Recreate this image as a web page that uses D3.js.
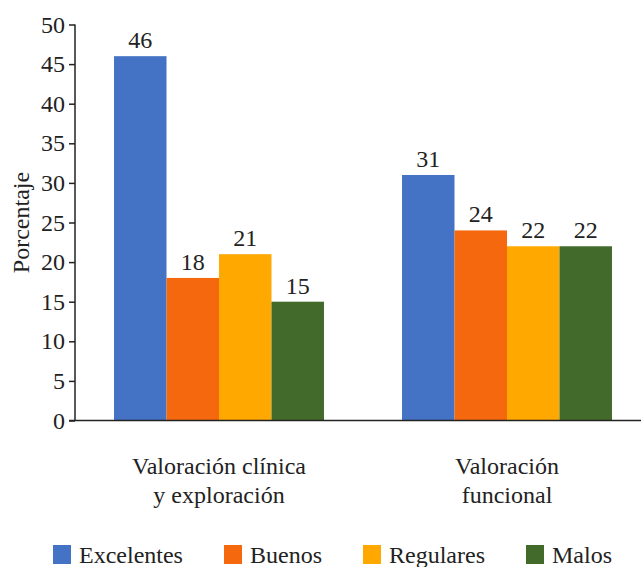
<!DOCTYPE html>
<html>
<head>
<meta charset="utf-8">
<script src="https://cdn.jsdelivr.net/npm/d3@7"></script>
<style>
  body { margin: 0; background: #fff; }
  svg text { font-family: "Liberation Serif", "Times New Roman", Tinos, Times, "DejaVu Serif", serif; fill: #222; }
</style>
</head>
<body>
<div id="chart"></div>
<script>
// chart data
var groups = ["Valoración clínica|y exploración", "Valoración|funcional"];
var series = ["Excelentes", "Buenos", "Regulares", "Malos"];
var excelentes = [46, 31];
var buenos = [18, 24];
var regulares = [21, 22];
var malos = [15, 22];
var colors = ["#4472C4", "#F5680E", "#FFA900", "#426A2B"];
var yTicks = [0, 5, 10, 15, 20, 25, 30, 35, 40, 45, 50];

var values = [excelentes, buenos, regulares, malos];

var width = 641, height = 567;
var margin = {top: 24.5, left: 75, bottom: 146.5, right: 0};
var fontSize = "24px";

var svg = d3.select("#chart")
	.append("svg")
	.attr("width", width)
	.attr("height", height);

var y = d3.scaleLinear()
	.domain([0, 50])
	.range([height - margin.bottom, margin.top]);

var x0 = d3.scaleBand()
	.domain(groups)
	.range([margin.left, margin.left + 576])
	.paddingInner(0.271)
	.paddingOuter(0.1355);

var x1 = d3.scaleBand()
	.domain(series)
	.range([0, x0.bandwidth()]);

// bars and value labels
groups.forEach(function(g, i){
	series.forEach(function(s, j){
		svg.append("rect")
			.attr("x", x0(g) + x1(s))
			.attr("y", y(values[j][i]))
			.attr("width", x1.bandwidth())
			.attr("height", y(0) - y(values[j][i]))
			.attr("fill", colors[j]);

		svg.append("text")
			.attr("x", x0(g) + x1(s) + x1.bandwidth() / 2)
			.attr("y", y(values[j][i]) - 8)
			.attr("text-anchor", "middle")
			.attr("font-size", fontSize)
			.text(values[j][i]);
	});
});

// y axis
var yAxis = svg.append("g")
	.attr("transform", "translate(" + margin.left + ",0)")
	.call(d3.axisLeft(y).tickValues(yTicks).tickSize(6).tickPadding(4));
yAxis.attr("font-family", null);
yAxis.selectAll("text").attr("font-size", fontSize).attr("fill", "#222");
yAxis.selectAll("line, path").attr("stroke", "#222").attr("stroke-width", 1.5);
yAxis.select("path").attr("d", "M0," + y(50) + "V" + y(0));

// x axis line
svg.append("line")
	.attr("x1", margin.left - 6)
	.attr("x2", width)
	.attr("y1", y(0))
	.attr("y2", y(0))
	.attr("stroke", "#222")
	.attr("stroke-width", 1.5);

// category labels
groups.forEach(function(g){
	var t = svg.append("text")
		.attr("text-anchor", "middle")
		.attr("font-size", fontSize);
	g.split("|").forEach(function(line, k){
		t.append("tspan")
			.attr("x", x0(g) + x0.bandwidth() / 2)
			.attr("y", 474 + k * 29)
			.text(line);
	});
});

// y title
svg.append("text")
	.attr("transform", "translate(29," + y(25) + ")rotate(-90)")
	.attr("text-anchor", "middle")
	.attr("font-size", fontSize)
	.text("Porcentaje");

// legend
var legendX = [53, 224, 363, 526];
series.forEach(function(s, j){
	svg.append("rect")
		.attr("x", legendX[j])
		.attr("y", 545)
		.attr("width", 18)
		.attr("height", 19)
		.attr("fill", colors[j]);
	svg.append("text")
		.attr("x", legendX[j] + 26)
		.attr("y", 563)
		.attr("font-size", fontSize)
		.text(s);
});
</script>
</body>
</html>
